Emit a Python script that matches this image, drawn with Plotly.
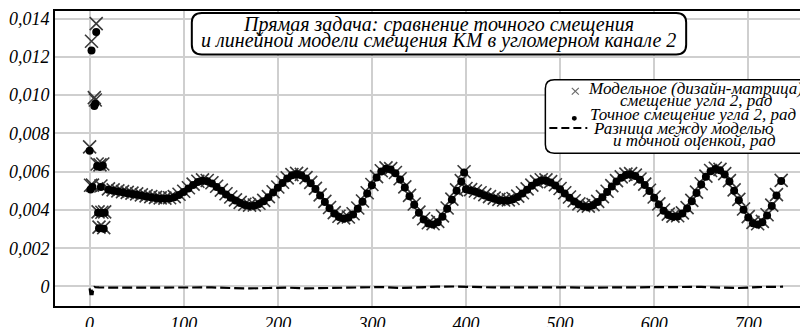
import plotly.graph_objects as go

# ---------------- data ----------------
# first, scattered samples
x_init = [0, 1, 2, 3, 5, 6, 7, 8, 9, 10, 11, 12, 13, 14, 15, 16]
model_init = [0.00730, 0.00529, 0.01282, 0.00530, 0.00987, 0.00975, 0.01374, 0.00640,
              0.00390, 0.00310, 0.00636, 0.00525, 0.00388, 0.00640, 0.00308, 0.00390]
exact_init = [0.00709, 0.00507, 0.01234, 0.00520, 0.00944, 0.00955, 0.01330, 0.00630,
              0.00386, 0.00305, 0.00625, 0.00520, 0.00384, 0.00632, 0.00302, 0.00385]

# first wave segment (samples 20..395 every 5, plus 398)
x_a = list(range(20, 400, 5)) + [398]
model_a = [0.00510, 0.00505, 0.00500, 0.00496, 0.00492, 0.00488, 0.00484, 0.00479,
           0.00474, 0.00470, 0.00466, 0.00463, 0.00462, 0.00464, 0.00470, 0.00482,
           0.00498, 0.00516, 0.00535, 0.00550, 0.00557, 0.00554, 0.00542, 0.00524,
           0.00504, 0.00485, 0.00468, 0.00453, 0.00440, 0.00430, 0.00425, 0.00426,
           0.00435, 0.00450, 0.00470, 0.00495, 0.00520, 0.00545, 0.00568, 0.00585,
           0.00591, 0.00586, 0.00569, 0.00544, 0.00513, 0.00479, 0.00445, 0.00413,
           0.00386, 0.00367, 0.00359, 0.00363, 0.00380, 0.00410, 0.00447, 0.00490,
           0.00533, 0.00574, 0.00605, 0.00620, 0.00616, 0.00596, 0.00563, 0.00521,
           0.00476, 0.00431, 0.00389, 0.00354, 0.00333, 0.00328, 0.00340, 0.00369,
           0.00410, 0.00457, 0.00505, 0.00553, 0.00600]
exact_a = [0.00506, 0.00501, 0.00496, 0.00492, 0.00488, 0.00484, 0.00480, 0.00475,
           0.00470, 0.00466, 0.00462, 0.00459, 0.00458, 0.00460, 0.00466, 0.00478,
           0.00494, 0.00512, 0.00531, 0.00546, 0.00553, 0.00550, 0.00538, 0.00520,
           0.00500, 0.00481, 0.00464, 0.00449, 0.00436, 0.00426, 0.00421, 0.00422,
           0.00431, 0.00446, 0.00466, 0.00491, 0.00516, 0.00541, 0.00564, 0.00581,
           0.00587, 0.00582, 0.00565, 0.00540, 0.00509, 0.00475, 0.00441, 0.00409,
           0.00382, 0.00363, 0.00355, 0.00359, 0.00376, 0.00406, 0.00443, 0.00486,
           0.00529, 0.00570, 0.00601, 0.00616, 0.00612, 0.00592, 0.00559, 0.00517,
           0.00472, 0.00427, 0.00385, 0.00350, 0.00329, 0.00324, 0.00336, 0.00365,
           0.00406, 0.00453, 0.00501, 0.00549, 0.00596]

# second wave segment (samples 400..735 every 5)
x_b = list(range(400, 740, 5))
model_b = [0.00512, 0.00506, 0.00499, 0.00490, 0.00480, 0.00470, 0.00462, 0.00455,
           0.00452, 0.00453, 0.00460, 0.00472, 0.00490, 0.00510, 0.00530, 0.00548,
           0.00558, 0.00557, 0.00548, 0.00532, 0.00512, 0.00490, 0.00468, 0.00448,
           0.00432, 0.00422, 0.00420, 0.00428, 0.00445, 0.00470, 0.00498, 0.00527,
           0.00553, 0.00573, 0.00587, 0.00590, 0.00582, 0.00562, 0.00535, 0.00503,
           0.00468, 0.00432, 0.00400, 0.00378, 0.00368, 0.00370, 0.00385, 0.00412,
           0.00450, 0.00493, 0.00537, 0.00577, 0.00606, 0.00618, 0.00612, 0.00590,
           0.00553, 0.00505, 0.00455, 0.00405, 0.00365, 0.00335, 0.00328, 0.00340,
           0.00375, 0.00425, 0.00480, 0.00555]
exact_b = [0.00508, 0.00502, 0.00495, 0.00486, 0.00476, 0.00466, 0.00458, 0.00451,
           0.00448, 0.00449, 0.00456, 0.00468, 0.00486, 0.00506, 0.00526, 0.00544,
           0.00554, 0.00553, 0.00544, 0.00528, 0.00508, 0.00486, 0.00464, 0.00444,
           0.00428, 0.00418, 0.00416, 0.00424, 0.00441, 0.00466, 0.00494, 0.00523,
           0.00549, 0.00569, 0.00583, 0.00586, 0.00578, 0.00558, 0.00531, 0.00499,
           0.00464, 0.00428, 0.00396, 0.00374, 0.00364, 0.00366, 0.00381, 0.00408,
           0.00446, 0.00489, 0.00533, 0.00573, 0.00602, 0.00614, 0.00608, 0.00586,
           0.00549, 0.00501, 0.00451, 0.00401, 0.00361, 0.00331, 0.00324, 0.00336,
           0.00371, 0.00421, 0.00476, 0.00551]

# difference between model and exact
x_diff = [0, 1, 2, 3, 4, 5, 6, 7, 8, 10, 30, 50, 70, 90, 110, 130, 150, 170, 190, 210,
          230, 250, 270, 290, 310, 330, 350, 370, 390, 410, 430, 450, 470, 490, 510,
          530, 550, 570, 590, 610, 630, 650, 670, 690, 710, 730, 737]
diff = [-0.00010, -0.00045, -0.00012, -0.00045, -0.00010, -0.00002, -0.00003, -0.00004,
        -0.00005, -0.00005, -0.00006, -0.00006, -0.00007, -0.00006, -0.00004, -0.00005,
        -0.00008, -0.00010, -0.00008, -0.00006, -0.00010, -0.00008, -0.00004, -0.00002,
        -0.00003, -0.00008, -0.00004, -0.00001, 0.00000, -0.00003, -0.00005, -0.00005,
        -0.00004, -0.00005, -0.00005, -0.00006, -0.00005, -0.00004, -0.00006, -0.00004,
        -0.00001, -0.00002, -0.00006, -0.00008, -0.00003, -0.00001, -0.00001]

x_tickvals = [0, 100, 200, 300, 400, 500, 600, 700]
x_ticktext = ["0", "100", "200", "300", "400", "500", "600", "700"]
y_tickvals = [0, 0.002, 0.004, 0.006, 0.008, 0.010, 0.012, 0.014]
y_ticktext = ["0", "0,002", "0,004", "0,006", "0,008", "0,010", "0,012", "0,014"]

title_lines = ["Прямая задача: сравнение точного смещения",
               "и линейной модели смещения КМ в угломерном канале 2"]
legend_lines = ["Модельное (дизайн-матрица)", "смещение угла 2, рад",
                "Точное смещение угла 2, рад",
                "Разница между моделью", "и точной оценкой, рад"]

# ---------------- figure ----------------
W, H = 808, 327
ML, MR, MT, MB = 46, 5, 1, 21
PW, PH = W - ML - MR, H - MT - MB
FONT = "Liberation Serif"


def px(xp):
    return (xp - ML) / PW


def py(yp):
    return (H - MB - yp) / PH


def ital(s):
    return "<i>" + s + "</i>"


def rounded_box(x0, y0, x1, y1, r):
    rx, ry = r / PW, r / PH
    X0, X1, Y0, Y1 = px(x0), px(x1), py(y1), py(y0)
    return (f"M {X0+rx},{Y0} L {X1-rx},{Y0} Q {X1},{Y0} {X1},{Y0+ry} "
            f"L {X1},{Y1-ry} Q {X1},{Y1} {X1-rx},{Y1} L {X0+rx},{Y1} "
            f"Q {X0},{Y1} {X0},{Y1-ry} L {X0},{Y0+ry} Q {X0},{Y0} {X0+rx},{Y0} Z")


x_all = x_init + x_a + x_b
model_all = model_init + model_a + model_b
exact_all = exact_init + exact_a + exact_b

fig = go.Figure()
fig.add_trace(go.Scatter(
    x=x_all, y=model_all, mode="markers", name="model",
    marker=dict(symbol="x-thin-open", size=13, color="#3a3a3a",
                line=dict(width=1.6, color="#3a3a3a"))))
fig.add_trace(go.Scatter(
    x=x_all, y=exact_all, mode="markers", name="exact",
    marker=dict(symbol="circle", size=8, color="black")))
fig.add_trace(go.Scatter(
    x=x_diff, y=diff, mode="lines", name="diff",
    line=dict(color="black", width=2.2, dash="10px,4px")))

tickfont = dict(family=FONT, size=18, color="black")
fig.update_xaxes(range=[-36.8, 766.7], tickvals=x_tickvals,
                 ticktext=[ital(t) for t in x_ticktext],
                 showgrid=True, gridcolor="#cfcfcf", gridwidth=1.5, zeroline=False,
                 showline=True, linecolor="black", linewidth=2, mirror=True,
                 ticks="", tickfont=tickfont)
fig.update_yaxes(range=[-0.00102, 0.01440], tickvals=y_tickvals,
                 ticktext=[ital(t) for t in y_ticktext],
                 showgrid=True, gridcolor="#cfcfcf", gridwidth=1.5, zeroline=False,
                 showline=True, linecolor="black", linewidth=2, mirror=True,
                 ticks="", tickfont=tickfont)

shapes = [
    dict(type="path", xref="paper", yref="paper", path=rounded_box(183, 3, 678, 46, 10),
         line=dict(color="black", width=2), fillcolor="white", layer="above"),
    dict(type="path", xref="paper", yref="paper", path=rounded_box(537, 72, 801, 148, 9),
         line=dict(color="black", width=1.5), fillcolor="white", layer="above"),
    # legend symbols
    dict(type="line", xref="paper", yref="paper", x0=px(563.5), x1=px(570.5),
         y0=py(80.5), y1=py(87.5), line=dict(color="#6a6a6a", width=1.2)),
    dict(type="line", xref="paper", yref="paper", x0=px(563.5), x1=px(570.5),
         y0=py(87.5), y1=py(80.5), line=dict(color="#6a6a6a", width=1.2)),
    dict(type="circle", xref="paper", yref="paper", x0=px(563.5), x1=px(568.5),
         y0=py(114.5), y1=py(109.5), line=dict(color="black", width=0), fillcolor="black"),
    dict(type="line", xref="paper", yref="paper", x0=px(541), x1=px(579),
         y0=py(122), y1=py(122), line=dict(color="black", width=2, dash="8px,4px")),
]

annotations = []
title_y = [15, 31]
for t, yy in zip(title_lines, title_y):
    annotations.append(dict(text=ital(t), xref="paper", yref="paper", x=px(430), y=py(yy),
                            xanchor="center", yanchor="middle", showarrow=False,
                            font=dict(family=FONT, size=20, color="black")))
legend_y = [81, 94, 108, 122, 135]
legend_x = [687, 688, 685, 675, 686]
for t, xx, yy in zip(legend_lines, legend_x, legend_y):
    annotations.append(dict(text=ital(t), xref="paper", yref="paper", x=px(xx), y=py(yy),
                            xanchor="center", yanchor="middle", showarrow=False,
                            font=dict(family=FONT, size=17, color="black")))

fig.update_layout(width=W, height=H, autosize=False,
                  margin=dict(l=ML, r=MR, t=MT, b=MB, pad=0),
                  plot_bgcolor="white", paper_bgcolor="white", showlegend=False,
                  font=dict(family=FONT),
                  shapes=shapes, annotations=annotations)

fig.write_html("out.html")
